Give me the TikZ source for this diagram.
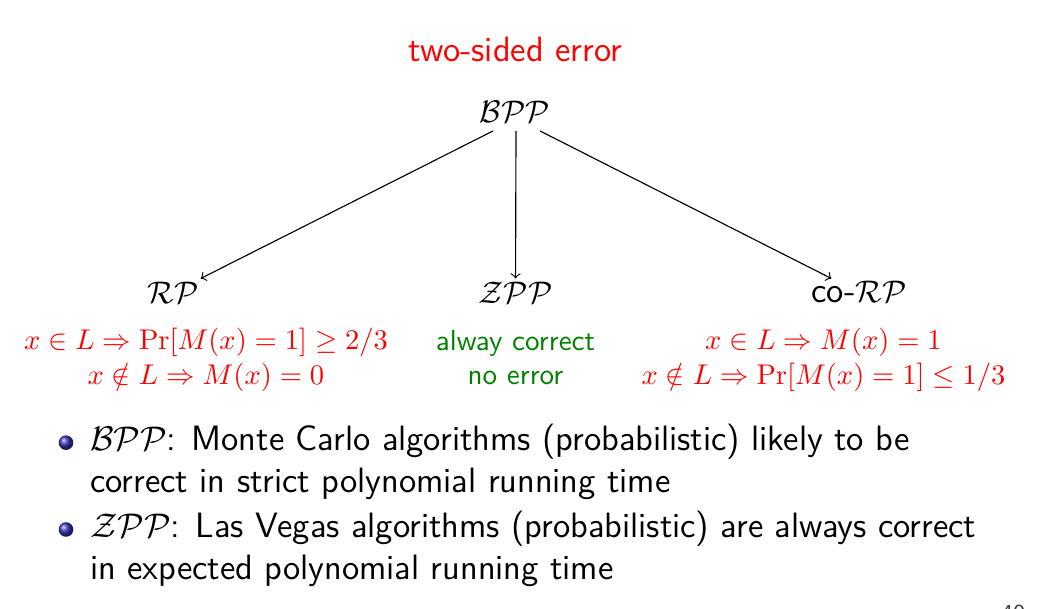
\documentclass[tikz,border=0pt]{standalone}
\usetikzlibrary{calc}
\definecolor{beamerblue}{rgb}{0.2,0.2,0.7}
\definecolor{darkgreen}{rgb}{0,0.5,0}
\newcommand{\clsname}[1]{{\fontsize{11.6}{14}\selectfont$\mathcal{#1}$}}
\begin{document}
\begin{tikzpicture}[x=0.3505pt,y=-0.3505pt,
  every node/.style={inner sep=0pt,outer sep=0pt},
  classnode/.style={font=\sffamily\fontsize{11}{13.6}\selectfont,minimum height=9.8pt,minimum width=24pt},
  labelnode/.style={font=\sffamily\fontsize{10.1}{12}\selectfont,text=red,anchor=base},
  greennode/.style={font=\sffamily\fontsize{10.2}{12}\selectfont,text=darkgreen,anchor=base},
  bodytext/.style={font=\sffamily\fontsize{12.35}{14.7}\selectfont,anchor=base west},
  titletext/.style={font=\sffamily\fontsize{12.35}{14.7}\selectfont,text=red,anchor=base},
  conn/.style={->,black,line width=0.4pt}]
\useasboundingbox (0,0) rectangle (1039,609);
% title
\node[titletext] (title) at (515.5,62) {two-sided error};
% class nodes
\node[classnode,minimum height=13.3pt] (bpp) at (515,112) {$\mathcal{BPP}$};
\node[classnode] (rp) at (173,292.5) {$\mathcal{RP}$};
\node[classnode] (zpp) at (515.5,292.5) {$\mathcal{ZPP}$};
\node[classnode] (corp) at (859,292.5) {{\fontsize{12.35}{14}\selectfont co-}$\mathcal{RP}$};
% connectors
\draw[conn] ($(bpp.south)+(-22,0)$) -- (rp);
\draw[conn] ($(bpp.south)+(1,0)$) -- (zpp);
\draw[conn] ($(bpp.south)+(25,0)$) -- (corp);
% labels
\node[labelnode] (rp1) at (206,350) {$x \in L \Rightarrow \Pr[M(x)=1] \geq 2/3$};
\node[labelnode] (rp2) at (206,385) {$x \notin L \Rightarrow M(x)=0$};
\node[greennode] (zpp1) at (515.5,350.5) {alway correct};
\node[greennode] (zpp2) at (515.5,385) {no error};
\node[labelnode] (corp1) at (823.5,350) {$x \in L \Rightarrow M(x)=1$};
\node[labelnode] (corp2) at (823.5,385) {$x \notin L \Rightarrow \Pr[M(x)=1] \leq 1/3$};
% bullets
\shade[ball color=beamerblue] (66,442.7) circle (7.3);
\shade[ball color=beamerblue] (66,529.5) circle (7.3);
\node[bodytext] (l1) at (90,450.7) {\clsname{BPP}: Monte Carlo algorithms (probabilistic) likely to be};
\node[bodytext] (l2) at (90,492.7) {correct in strict polynomial running time};
\node[bodytext] (l3) at (90,537.3) {\clsname{ZPP}: Las Vegas algorithms (probabilistic) are always correct};
\node[bodytext] (l4) at (90,579.3) {in expected polynomial running time};
% page number (cut off at the edge)
\node[font=\sffamily\fontsize{8}{9}\selectfont,text=black!75,anchor=north west] (page) at (1001,603.5) {40 / 56};
\end{tikzpicture}
\end{document}
